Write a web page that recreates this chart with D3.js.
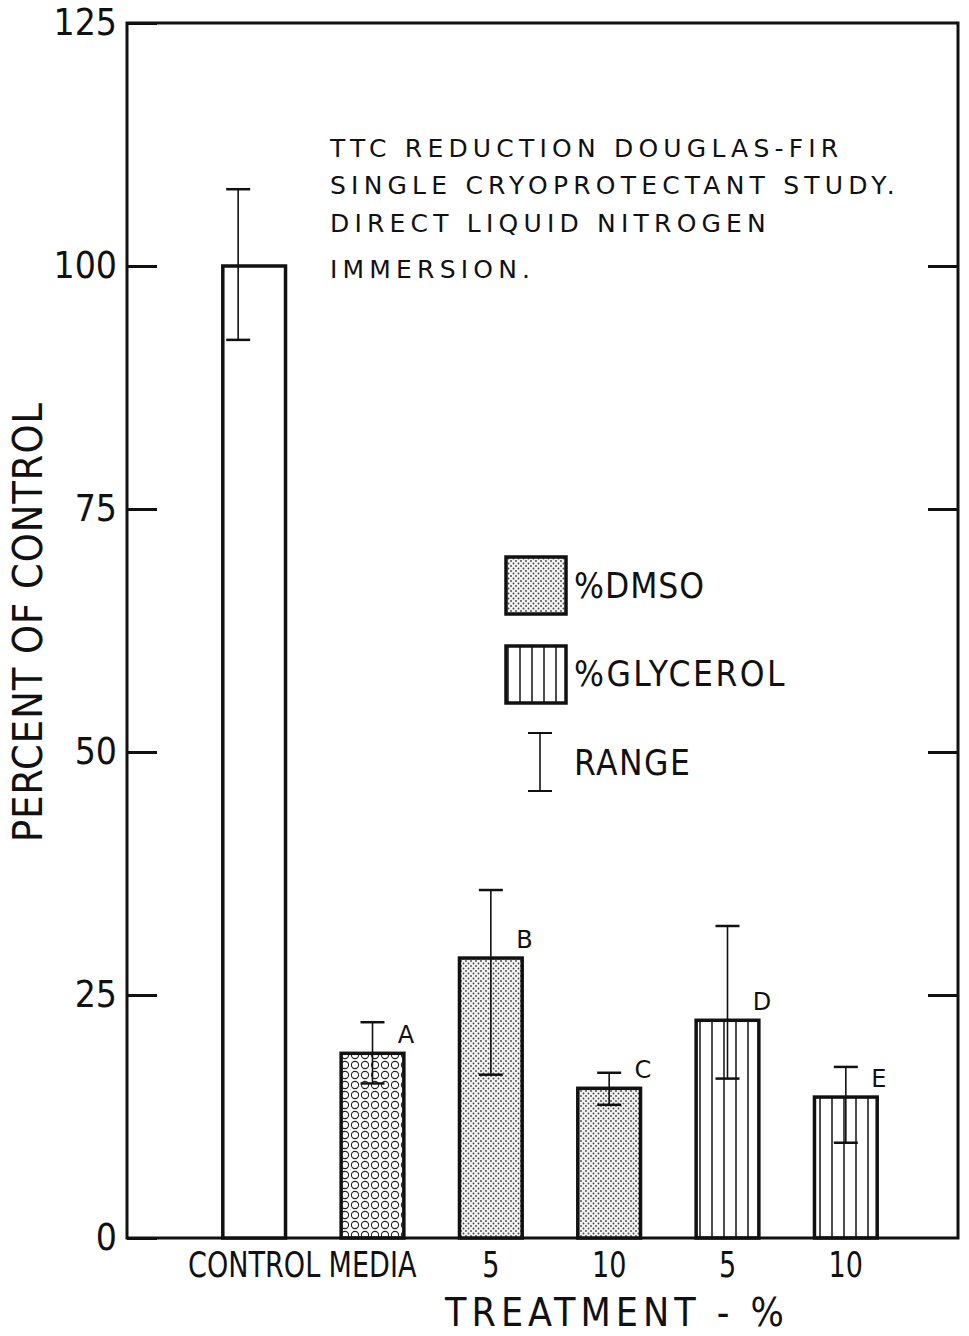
<!DOCTYPE html>
<html>
<head>
<meta charset="utf-8">
<script src="https://cdn.jsdelivr.net/npm/d3@7"></script>
<style>
  body { margin: 0; background: #fff; }
  svg { display: block; }
  text { fill: #111; }
</style>
</head>
<body>
<div id="chart"></div>
<script>
// Data
const categories = ["control", "media", "dmso5", "dmso10", "gly5", "gly10"];
const tickLabels = ["CONTROL", "MEDIA", "5", "10", "5", "10"];
const treatments = ["control", "media", "dmso", "dmso", "glycerol", "glycerol"];
const values     = [100, 19.0, 28.8, 15.4, 22.4, 14.5];
const rangeLow   = [92.4, 15.9, 16.8, 13.7, 16.4, 9.8];
const rangeHigh  = [107.9, 22.2, 35.8, 17.0, 32.1, 17.6];
const letters    = ["", "A", "B", "C", "D", "E"];
const yTicks     = [0, 25, 50, 75, 100, 125];
const titleLines = [
    "TTC REDUCTION DOUGLAS-FIR",
    "SINGLE CRYOPROTECTANT STUDY.",
    "DIRECT LIQUID NITROGEN",
    "IMMERSION."
];

const width = 969;
const height = 1336;
const plotLeft = 127, plotRight = 958, plotTop = 23, plotBottom = 1238;
const font = "'DejaVu Sans Condensed', 'DejaVu Sans', sans-serif";

const svg = d3.select("#chart")
    .append("svg")
    .attr("width", width)
    .attr("height", height);

// fill patterns
const defs = svg.append("defs");

const circ = defs.append("pattern")
    .attr("id", "circles")
    .attr("patternUnits", "userSpaceOnUse")
    .attr("width", 10).attr("height", 10);
circ.append("circle")
    .attr("cx", 5).attr("cy", 5).attr("r", 3.6)
    .attr("fill", "none").attr("stroke", "#222").attr("stroke-width", 1.1);

const dots = defs.append("pattern")
    .attr("id", "dots")
    .attr("patternUnits", "userSpaceOnUse")
    .attr("width", 5).attr("height", 5);
dots.append("rect").attr("width", 5).attr("height", 5).attr("fill", "#f2f2f2");
dots.append("circle").attr("cx", 1).attr("cy", 1).attr("r", 0.9).attr("fill", "#444");
dots.append("circle").attr("cx", 3.5).attr("cy", 3.5).attr("r", 0.9).attr("fill", "#444");

const vlines = defs.append("pattern")
    .attr("id", "vlines")
    .attr("patternUnits", "userSpaceOnUse")
    .attr("width", 12).attr("height", 10);
vlines.append("line")
    .attr("x1", 4).attr("x2", 4).attr("y1", 0).attr("y2", 10)
    .attr("stroke", "#111").attr("stroke-width", 1.5);

const fillFor = {
    control: "#fff",
    media: "url(#circles)",
    dmso: "url(#dots)",
    glycerol: "url(#vlines)"
};

const rows = categories.map((c, i) => ({
    cat: c, label: tickLabels[i], kind: treatments[i],
    value: values[i], lo: rangeLow[i], hi: rangeHigh[i], letter: letters[i]
}));

const x = d3.scaleBand()
    .domain(categories)
    .range([195, 905])
    .paddingInner(0.47)
    .paddingOuter(0.235);

const y = d3.scaleLinear()
    .domain([0, 125])
    .range([plotBottom, plotTop]);

// axes
svg.append("g")
    .attr("transform", `translate(${plotLeft},0)`)
    .call(d3.axisLeft(y).tickValues(yTicks).tickSize(-30).tickPadding(10))
    .call(g => g.select(".domain").remove())
    .call(g => g.selectAll(".tick line").attr("stroke", "#111").attr("stroke-width", 3))
    .call(g => g.selectAll(".tick text")
        .attr("font-family", font)
        .attr("font-size", 37)
        .attr("fill", "#111"));

svg.append("g")
    .attr("transform", `translate(${plotRight},0)`)
    .call(d3.axisRight(y).tickValues(yTicks.slice(1, -1)).tickSize(-30).tickFormat(""))
    .call(g => g.select(".domain").remove())
    .call(g => g.selectAll(".tick line").attr("stroke", "#111").attr("stroke-width", 3));

svg.append("g")
    .attr("transform", `translate(0,${plotBottom})`)
    .call(d3.axisBottom(x).tickSize(0).tickPadding(14).tickFormat((d, i) => tickLabels[i]))
    .call(g => g.select(".domain").remove())
    .call(g => g.selectAll(".tick text")
        .attr("font-family", font)
        .attr("font-size", 35)
        .attr("transform", "scale(0.86,1)")
        .attr("fill", "#111"));

// frame
svg.append("rect")
    .attr("x", plotLeft).attr("y", plotTop)
    .attr("width", plotRight - plotLeft).attr("height", plotBottom - plotTop)
    .attr("fill", "none")
    .attr("stroke", "#111")
    .attr("stroke-width", 3);

// bars
svg.append("g")
    .selectAll("rect")
    .data(rows)
    .join("rect")
    .attr("x", d => x(d.cat))
    .attr("y", d => y(d.value))
    .attr("width", x.bandwidth())
    .attr("height", d => y(0) - y(d.value))
    .attr("fill", d => fillFor[d.kind])
    .attr("stroke", "#111")
    .attr("stroke-width", 3.5);

// range bars
const err = svg.append("g")
    .attr("stroke", "#111")
    .selectAll("g")
    .data(rows)
    .join("g")
    .attr("transform", d => `translate(${x(d.cat) + x.bandwidth() / 2 + (d.kind === "control" ? -16 : 0)},0)`);

err.append("line")
    .attr("y1", d => y(d.lo)).attr("y2", d => y(d.hi))
    .attr("stroke-width", 1.6);
err.selectAll("line.cap")
    .data(d => [d.lo, d.hi])
    .join("line")
    .attr("class", "cap")
    .attr("x1", -12).attr("x2", 12)
    .attr("y1", v => y(v)).attr("y2", v => y(v))
    .attr("stroke-width", 2.5);

// letters
svg.append("g")
    .selectAll("text")
    .data(rows.filter(d => d.letter))
    .join("text")
    .attr("x", d => x(d.cat) + x.bandwidth() - 6)
    .attr("y", d => y(d.value) - 10)
    .attr("font-family", "'DejaVu Sans', sans-serif")
    .attr("font-size", 24)
    .text(d => d.letter);

// axis titles
svg.append("text")
    .attr("transform", "translate(42,622) rotate(-90)")
    .attr("text-anchor", "middle")
    .attr("font-family", font)
    .attr("font-size", 41)
    .attr("letter-spacing", 1)
    .text("PERCENT OF CONTROL");

svg.append("text")
    .attr("x", 617).attr("y", 1326)
    .attr("text-anchor", "middle")
    .attr("font-family", font)
    .attr("font-size", 39)
    .attr("letter-spacing", 5)
    .text("TREATMENT - %");

// title block
const titleY = [157, 194, 232, 278];
svg.append("g")
    .selectAll("text")
    .data(titleLines)
    .join("text")
    .attr("x", 330)
    .attr("y", (d, i) => titleY[i])
    .attr("font-family", "'DejaVu Sans', sans-serif")
    .attr("font-size", 25)
    .attr("letter-spacing", 5.2)
    .text(d => d);

// legend
const legend = svg.append("g")
    .attr("font-family", font)
    .attr("font-size", 35);

legend.append("rect")
    .attr("x", 506).attr("y", 557).attr("width", 60).attr("height", 57)
    .attr("fill", "url(#dots)").attr("stroke", "#111").attr("stroke-width", 3.5);
legend.append("text").attr("x", 574).attr("y", 598).attr("letter-spacing", 1).text("%DMSO");

legend.append("rect")
    .attr("x", 506).attr("y", 646).attr("width", 60).attr("height", 57)
    .attr("fill", "url(#vlines)").attr("stroke", "#111").attr("stroke-width", 3.5);
legend.append("text").attr("x", 574).attr("y", 686).attr("letter-spacing", 2.5).text("%GLYCEROL");

const rg = legend.append("g").attr("stroke", "#111");
rg.append("line").attr("x1", 540).attr("x2", 540).attr("y1", 733).attr("y2", 791).attr("stroke-width", 1.6);
rg.append("line").attr("x1", 528).attr("x2", 552).attr("y1", 733).attr("y2", 733).attr("stroke-width", 2);
rg.append("line").attr("x1", 528).attr("x2", 552).attr("y1", 791).attr("y2", 791).attr("stroke-width", 2);
legend.append("text").attr("x", 574).attr("y", 775).attr("letter-spacing", 1.5).text("RANGE");
</script>
</body>
</html>
